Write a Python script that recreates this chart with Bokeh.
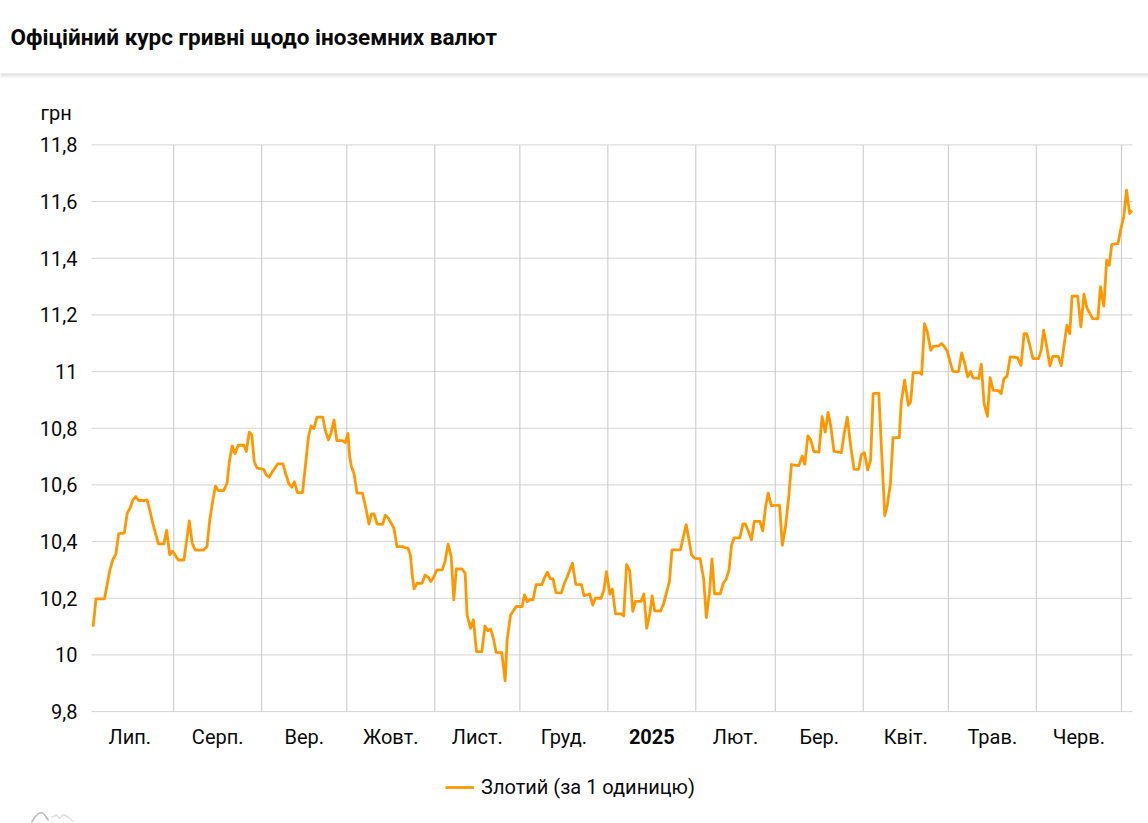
from bokeh.embed import file_html
from bokeh.resources import INLINE
from bokeh.plotting import figure
from bokeh.models import (BoxAnnotation, ColumnDataSource, FixedTicker, Label, Legend,
                          LegendItem, Range1d)

TITLE = "Офіційний курс гривні щодо іноземних валют"
UNIT = "грн"
SERIES = "Злотий (за 1 одиницю)"

# days counted from 1 July 2024
day_number = [
    2.6, 3.6, 6.6, 7.5, 8.5, 9.5, 10.6, 11.6, 13.6, 14.6, 15.6, 16.6, 17.6, 18.6, 20.5, 21.6, 22.5, 23.6,
    25.6, 27.5, 28.5, 29.6, 30.6, 32.6, 34.6, 36.5, 37.5, 38.6, 41.5, 42.7, 43.7, 44.7, 45.7, 46.7, 48.6,
    49.8, 50.6, 51.6, 52.6, 53.7, 55.7, 56.6, 57.6, 58.5, 59.4, 60.4, 62.7, 63.6, 64.6, 65.6, 67.6, 69.5,
    70.6, 71.6, 72.6, 73.5, 74.6, 76.4, 77.5, 78.5, 79.4, 80.4, 81.5, 83.5, 84.4, 85.5, 86.4, 87.5, 88.5,
    90.5, 91.5, 92.4, 93.0, 93.6, 94.5, 95.6, 97.5, 98.6, 99.8, 100.7, 101.6, 102.7, 104.6, 105.6, 106.7,
    108.6, 109.7, 111.6, 112.7, 113.6, 114.4, 115.0, 115.7, 116.8, 118.5, 119.6, 120.7, 121.6, 122.6,
    123.7, 125.6, 126.6, 127.7, 128.8, 129.7, 130.6, 132.6, 133.7, 134.4, 135.6, 136.6, 137.7, 139.6,
    140.7, 141.7, 142.7, 143.8, 144.6, 146.6, 147.8, 148.5, 149.7, 150.6, 151.7, 153.8, 154.6, 155.6,
    156.7, 157.6, 158.7, 160.7, 161.6, 162.7, 163.7, 164.7, 165.7, 167.6, 168.7, 169.7, 171.5, 172.7,
    174.7, 175.6, 177.6, 178.7, 179.6, 181.6, 182.6, 183.5, 184.7, 185.6, 186.7, 188.7, 189.6, 190.6,
    191.7, 192.8, 193.7, 195.7, 196.7, 197.7, 198.8, 199.6, 200.5, 202.6, 203.7, 204.6, 205.7, 206.6,
    209.6, 210.5, 211.6, 212.6, 213.5, 214.6, 216.5, 217.8, 218.7, 219.8, 220.7, 221.6, 223.6, 224.7,
    225.7, 226.7, 227.6, 228.5, 230.5, 231.6, 232.5, 233.6, 234.6, 235.6, 237.6, 238.6, 239.6, 240.5,
    241.6, 244.5, 245.5, 246.6, 247.7, 248.7, 251.3, 252.5, 253.4, 254.5, 255.5, 256.6, 258.4, 259.5,
    260.6, 261.6, 262.5, 263.7, 266.3, 267.3, 268.4, 269.6, 270.8, 272.4, 273.3, 274.4, 275.6, 276.6,
    277.5, 279.5, 280.4, 281.6, 282.5, 283.6, 284.5, 286.7, 287.4, 288.6, 289.9, 290.7, 291.6, 293.8,
    294.6, 295.6, 296.6, 297.8, 298.7, 300.7, 301.6, 302.7, 303.6, 304.6, 305.6, 307.6, 308.7, 309.8,
    310.8, 311.8, 312.7, 314.7, 315.6, 316.6, 317.8, 318.7, 319.8, 321.6, 322.6, 323.6, 324.7, 325.8,
    328.4, 329.6, 330.7, 331.6, 332.7, 333.8, 335.8, 336.7, 337.6, 338.7, 339.8, 340.8, 342.7, 343.8,
    344.7, 345.8, 346.8, 347.6, 349.6, 350.7, 351.8, 352.8, 353.9, 354.8, 356.7, 357.6, 358.8, 359.8,
    360.7, 361.6, 363.8, 364.7, 365.8, 366.8, 367.9, 368.7,
]
rate = [
    10.10, 10.198, 10.198, 10.247, 10.30, 10.335, 10.356, 10.428, 10.43, 10.50, 10.518, 10.547, 10.559, 10.545, 10.545, 10.547, 10.514, 10.465,
    10.392, 10.392, 10.44, 10.353, 10.366, 10.335, 10.335, 10.473, 10.394, 10.37, 10.37, 10.382, 10.476, 10.541, 10.596, 10.58, 10.58,
    10.606, 10.682, 10.738, 10.71, 10.74, 10.74, 10.718, 10.786, 10.776, 10.682, 10.659, 10.655, 10.635, 10.627, 10.644, 10.674, 10.674,
    10.635, 10.604, 10.592, 10.611, 10.573, 10.573, 10.676, 10.77, 10.808, 10.799, 10.839, 10.839, 10.794, 10.759, 10.782, 10.829, 10.756,
    10.756, 10.749, 10.782, 10.70, 10.665, 10.641, 10.571, 10.571, 10.524, 10.462, 10.498, 10.498, 10.462, 10.461, 10.493, 10.482,
    10.447, 10.382, 10.382, 10.378, 10.376, 10.353, 10.288, 10.233, 10.253, 10.253, 10.282, 10.274, 10.259, 10.274,
    10.30, 10.30, 10.329, 10.391, 10.347, 10.194, 10.304, 10.304, 10.288, 10.141, 10.094, 10.124, 10.012, 10.012,
    10.102, 10.085, 10.092, 10.053, 10.009, 10.008, 9.909, 10.053, 10.141, 10.154, 10.171, 10.171, 10.212, 10.188,
    10.196, 10.194, 10.248, 10.248, 10.271, 10.292, 10.269, 10.268, 10.22, 10.219, 10.253, 10.276, 10.324, 10.249,
    10.248, 10.209, 10.215, 10.176, 10.2, 10.2, 10.229, 10.294, 10.215, 10.232, 10.145, 10.145, 10.138, 10.319,
    10.298, 10.154, 10.189, 10.189, 10.215, 10.094, 10.147, 10.208, 10.156, 10.155, 10.182, 10.218, 10.259, 10.371,
    10.371, 10.412, 10.46, 10.406, 10.353, 10.341, 10.34, 10.265, 10.132, 10.218, 10.339, 10.216, 10.216, 10.253,
    10.267, 10.30, 10.388, 10.413, 10.413, 10.462, 10.462, 10.435, 10.406, 10.471, 10.471, 10.438, 10.524, 10.571,
    10.527, 10.529, 10.387, 10.453, 10.553, 10.672, 10.668, 10.702, 10.673, 10.773, 10.759, 10.718, 10.716, 10.841,
    10.786, 10.856, 10.812, 10.718, 10.714, 10.782, 10.839, 10.735, 10.655, 10.655, 10.706, 10.714, 10.653, 10.688,
    10.922, 10.924, 10.735, 10.491, 10.53, 10.606, 10.767, 10.767, 10.892, 10.97, 10.881, 10.893, 10.996, 10.996,
    10.99, 11.169, 11.14, 11.075, 11.089, 11.091, 11.099, 11.087, 11.073, 11.034, 11.001, 11.0, 11.066, 11.028,
    10.981, 11.0, 10.978, 10.976, 11.026, 10.887, 10.842, 10.979, 10.934, 10.933, 10.922, 10.975, 10.984, 11.052,
    11.049, 11.022, 11.134, 11.134, 11.093, 11.046, 11.046, 11.075, 11.146, 11.087, 11.02, 11.054, 11.054, 11.021,
    11.087, 11.164, 11.134, 11.266, 11.266, 11.158, 11.273, 11.226, 11.205, 11.187, 11.186, 11.299, 11.231, 11.393,
    11.375, 11.449, 11.452, 11.499, 11.546, 11.64, 11.558, 11.569,
]

month_starts = [31, 62, 92, 123, 153, 184, 215, 243, 274, 304, 335, 365]
label_days = [15.5, 46.5, 77, 107.5, 138, 168.5, 199.5, 229, 258.5, 289, 319.5, 350]
month_labels = ["Лип.", "Серп.", "Вер.", "Жовт.", "Лист.", "Груд.", "", "Лют.", "Бер.", "Квіт.", "Трав.", "Черв."]
year_label = "2025"
year_label_day = 199.5

y_ticks = [9.8, 10.0, 10.2, 10.4, 10.6, 10.8, 11.0, 11.2, 11.4, 11.6, 11.8]
y_labels = ["9,8", "10", "10,2", "10,4", "10,6", "10,8", "11", "11,2", "11,4", "11,6", "11,8"]

FONT = "Roboto"
INK = "#0a0a0a"
LINE = "#ff9800"
W, H = 1148, 823
DAY0, DAY1 = 2.02, 368.9       # days at the plot's left and right edges
PX0, PX1 = 91, 1132            # their page positions
PY_TOP, PY_BOT = 144.4, 711.1  # page positions of 11.8 and 9.8
VMAX, VMIN = 11.8, 9.8


def X(px):
    return DAY0 + (px - PX0) * (DAY1 - DAY0) / (PX1 - PX0)


def Y(py):
    return VMAX - (py - PY_TOP) * (VMAX - VMIN) / (PY_BOT - PY_TOP)


# the frame fills the page, so that every text can sit anywhere on it
p = figure(width=W, height=H, output_backend="svg", toolbar_location=None,
           x_range=Range1d(X(0), X(W)), y_range=Range1d(Y(H), Y(0)),
           min_border=0, outline_line_color=None)
p.grid.visible = False

# header
p.add_layout(Label(x=X(10), y=Y(36), text=TITLE, text_font=FONT, text_font_size="22.5px",
                   text_font_style="bold", text_color=INK, text_align="left",
                   text_baseline="middle"))
for top, col in zip([73, 74, 75, 76, 77], ["#d8d8d8", "#dedede", "#e6e6e6", "#f0f0f0", "#f9f9f9"]):
    p.add_layout(BoxAnnotation(left=X(0), right=X(W), top=Y(top), bottom=Y(top + 1),
                               fill_color=col, fill_alpha=1, line_color=None))

# small mountain mark cut by the page's bottom edge
p.line([X(a) for a in (31, 34, 38, 41, 44, 48)], [Y(b) for b in (822, 817, 813, 812, 814, 820)],
       line_color="#bbbbbb", line_width=1.5)
p.line([X(a) for a in (51, 56, 59, 63, 68, 73)], [Y(b) for b in (817, 814.5, 818, 814, 817, 821)],
       line_color="#dddddd", line_width=1.5)

# grid
p.segment(x0=[DAY0] * len(y_ticks), x1=[DAY1] * len(y_ticks), y0=y_ticks, y1=y_ticks,
          line_color="#d4d4d4", line_width=1)
p.segment(x0=month_starts, x1=month_starts, y0=[VMIN] * len(month_starts), y1=[VMAX] * len(month_starts),
          line_color="#c8c8c8", line_width=1)

src = ColumnDataSource(dict(x=day_number, y=rate))
line = p.line("x", "y", source=src, line_color=LINE, line_width=2.8, line_join="round")

p.xaxis.fixed_location = VMIN
p.xaxis.ticker = FixedTicker(ticks=label_days)
p.xaxis.major_label_overrides = {d: t for d, t in zip(label_days, month_labels)}
p.xaxis.major_tick_line_color = None
p.xaxis.minor_tick_line_color = None
p.xaxis.axis_line_color = None
p.xaxis.major_label_standoff = 7
p.xaxis.major_label_text_font = FONT
p.xaxis.major_label_text_font_size = "20px"
p.xaxis.major_label_text_color = INK

p.yaxis.fixed_location = DAY0
p.yaxis.ticker = FixedTicker(ticks=y_ticks)
p.yaxis.major_label_overrides = {v: t for v, t in zip(y_ticks, y_labels)}
p.yaxis.major_tick_line_color = None
p.yaxis.minor_tick_line_color = None
p.yaxis.axis_line_color = None
p.yaxis.major_label_standoff = 8
p.yaxis.major_label_text_font = FONT
p.yaxis.major_label_text_font_size = "20px"
p.yaxis.major_label_text_color = INK

p.add_layout(Label(x=year_label_day, y=Y(736), text=year_label, text_font=FONT,
                   text_font_size="20px", text_font_style="bold", text_color=INK,
                   text_align="center", text_baseline="middle"))
p.add_layout(Label(x=X(40), y=Y(112.5), text=UNIT, text_font=FONT,
                   text_font_size="20px", text_color=INK, text_align="left",
                   text_baseline="middle"))

legend = Legend(items=[LegendItem(label=SERIES, renderers=[line])],
                location=(445, H - 798.5), orientation="horizontal", border_line_color=None,
                background_fill_alpha=0, label_text_font=FONT, label_text_font_size="20px",
                label_text_color=INK, glyph_width=29, glyph_height=20, label_standoff=7,
                padding=0, margin=0)
p.add_layout(legend)

open("out.html", "w").write(file_html(p, INLINE))
